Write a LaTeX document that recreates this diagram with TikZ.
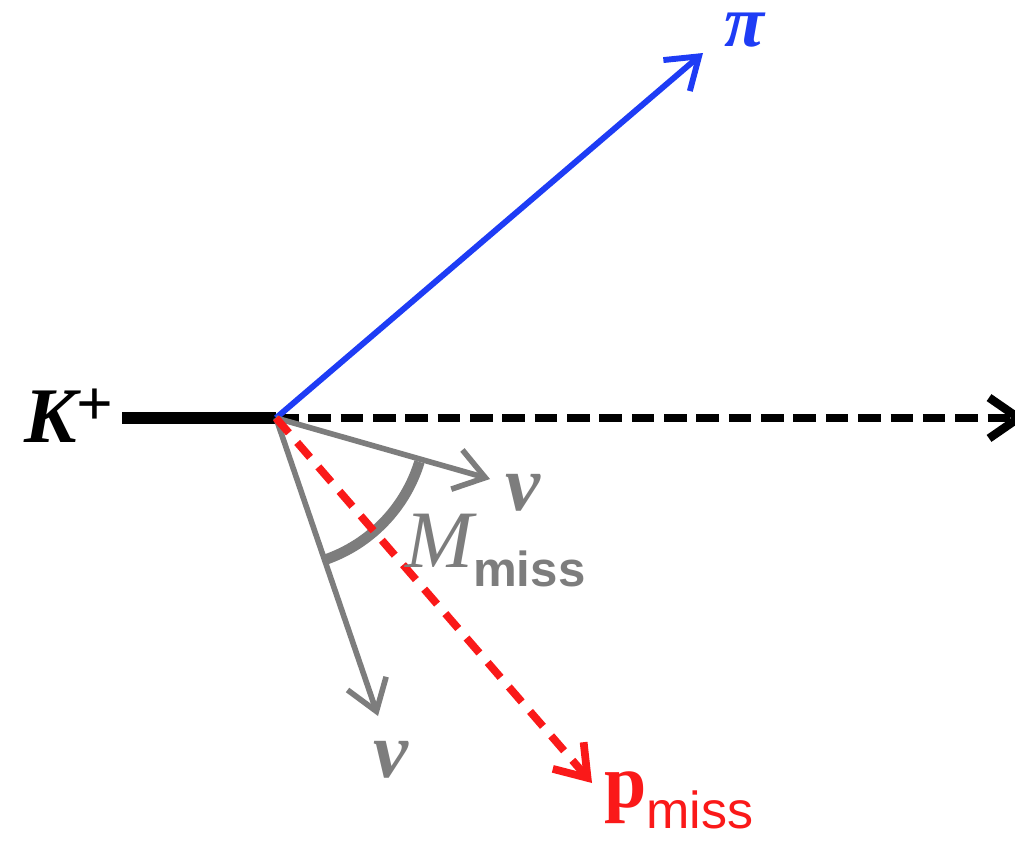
\documentclass[tikz,border=0pt]{standalone}
\usepackage{fontspec}
\setmainfont{Liberation Serif}
\setsansfont{Liberation Sans}
\usetikzlibrary{arrows.meta}
\definecolor{piblue}{RGB}{30,60,245}
\definecolor{missred}{RGB}{250,25,25}
\definecolor{nugray}{RGB}{125,125,125}

\begin{document}
\begin{tikzpicture}[x=0.025cm, y=0.025cm,
  barb/.style={-{Straight Barb[length=21pt,width=29pt]}},
  lbl/.style={font=\fontsize{56}{60}\selectfont\bfseries\itshape, inner sep=0pt}]
\useasboundingbox (0,0) rectangle (1015,-842);

\coordinate (V) at (276,-418);
\coordinate (kstart) at (122,-418);
\coordinate (beamend) at (1026,-418);
\coordinate (piend) at (703,-53);
\coordinate (nuA) at (490,-479);
\coordinate (nuB) at (378,-716);
\coordinate (pend) at (592,-783);

% kaon and beam axis
\draw[line width=8.5pt] (kstart) to (V);
\draw[barb, line width=6pt, dash pattern=on 16pt off 7pt] (V) to (beamend);

% pion
\draw[barb, line width=4.2pt, piblue] (V) to (piend);

% neutrinos
\draw[barb, line width=4pt, nugray] (V) to (nuA);
\draw[barb, line width=4pt, nugray] (V) to (nuB);
\draw[line width=7.5pt, nugray] ([shift={(-17:150)}]V) arc[start angle=-17, end angle=-71, radius=150];

% missing momentum
\draw[barb, line width=5.5pt, missred, dash pattern=on 14pt off 9pt] (V) to (pend);

% labels
\node (klbl) [lbl, anchor=base east] at (114,-442) {K\raisebox{12pt}{\upshape\fontsize{46}{48}\selectfont +}};
\node (pilbl) [lbl, anchor=base, piblue, font=\fontsize{52}{56}\selectfont\bfseries\itshape] at (744,-46) {π};
\node (nuAlbl) [lbl, anchor=base, nugray] at (523,-510) {ν};
\node (nuBlbl) [lbl, anchor=base, nugray] at (391,-777) {ν};
\node (mlbl) [anchor=base west, inner sep=0pt, nugray, font=\fontsize{58}{60}\selectfont\itshape] at (405,-567)
  {M\raisebox{-14pt}{\sffamily\bfseries\upshape\fontsize{35}{40}\selectfont miss}};
\node (plbl) [anchor=base west, inner sep=0pt, missred, font=\fontsize{54}{58}\selectfont\bfseries] at (604,-807)
  {p\raisebox{-15pt}{\sffamily\mdseries\fontsize{37}{40}\selectfont miss}};
\end{tikzpicture}
\end{document}
